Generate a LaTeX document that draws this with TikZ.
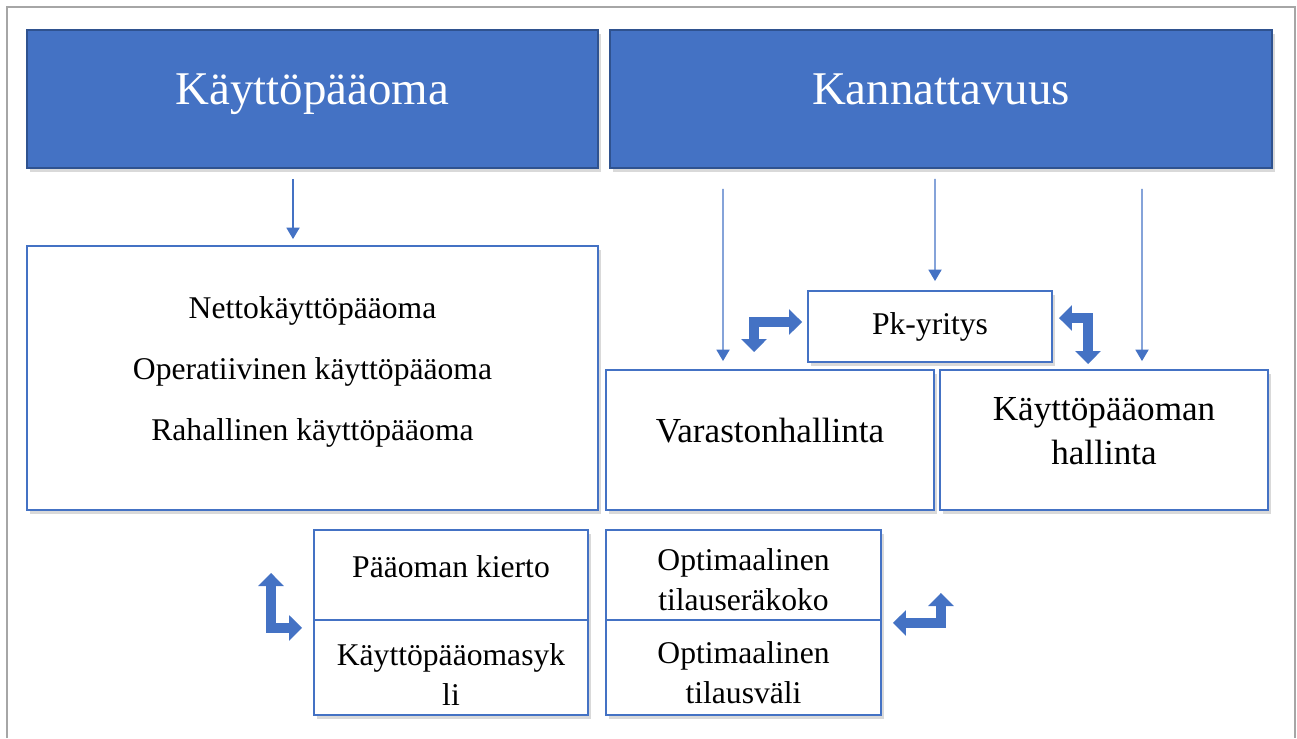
\documentclass[tikz,border=0pt]{standalone}
\usepackage{fontspec}
\setmainfont{Liberation Serif}
\usetikzlibrary{arrows.meta,shadows}
\definecolor{officeblue}{HTML}{4472C4}
\definecolor{darkblue}{HTML}{2F528F}
\definecolor{framegray}{HTML}{A6A6A6}
% struts to move text off the box centre
\newcommand{\lowstrut}[1]{\rule[-#1]{0pt}{#1}}
\newcommand{\highstrut}[1]{\rule{0pt}{#1}}

\begin{document}
\begin{tikzpicture}[
    x=0.02cm, y=-0.02cm,
    shadowed/.style={drop shadow={opacity=0.3, shadow xshift=0.06cm, shadow yshift=-0.08cm}},
    header/.style={rectangle, draw=darkblue, line width=1pt, fill=officeblue, text=white, shadowed, minimum height=2.76cm, text height=20pt, text depth=13.2pt, font=\fontsize{26.7}{32}\selectfont},
    box/.style={rectangle, draw=officeblue, line width=1.1pt, fill=white, shadowed, align=center, inner sep=0pt},
    small/.style={font=\fontsize{18}{22.7}\selectfont},
    arrow/.style={-{Triangle[length=6.5pt,width=7.5pt]}, officeblue, line width=0.7pt},
    bentarrow/.style={{Triangle[length=0.26cm,width=0.5cm]}-{Triangle[length=0.26cm,width=0.5cm]}, officeblue, line width=0.2cm}
]
\useasboundingbox (0,0) rectangle (1297,738);
\draw[framegray, line width=1.2pt] (7,738) -- (7,7) -- (1295,7) -- (1295,738);

\node[header, minimum width=11.42cm] (kpo) at (312.5,99) {Käyttöpääoma};
\node[header, minimum width=13.24cm] (kann) at (941,99) {Kannattavuus};

\node[box, minimum width=11.42cm, minimum height=5.28cm, font=\fontsize{18}{34.6}\selectfont] (kpolist) at (312.5,378) {Nettokäyttöpääoma\\Operatiivinen käyttöpääoma\\Rahallinen käyttöpääoma\lowstrut{10.7pt}};

\node[box, minimum width=4.88cm, minimum height=1.42cm, font=\fontsize{18}{22}\selectfont] (pk) at (930,326.5) {Pk-yritys};
\node[box, minimum width=6.56cm, minimum height=2.8cm, font=\fontsize{20}{25}\selectfont] (varasto) at (770,440) {Varastonhallinta\lowstrut{11.4pt}};
\node[box, minimum width=6.56cm, minimum height=2.8cm, font=\fontsize{20}{25}\selectfont] (kphall) at (1104,440) {Käyttöpääoman\\hallinta\lowstrut{10.2pt}};

\node[box, small, minimum width=5.48cm, minimum height=1.8cm] (kierto) at (451,575) {Pääoman kierto\lowstrut{10.2pt}};
\node[box, small, minimum width=5.48cm, minimum height=1.9cm] (sykli) at (451,667.5) {\highstrut{20.3pt}Käyttöpääomasyk\\li};
\node[box, small, minimum width=5.5cm, minimum height=1.8cm] (tilera) at (743.5,575) {\highstrut{18pt}Optimaalinen\\tilauseräkoko};
\node[box, small, minimum width=5.5cm, minimum height=1.9cm] (tilvali) at (743.5,667.5) {\highstrut{18pt}Optimaalinen\\tilausväli};

% thin arrows
\draw[arrow] ([xshift=-0.39cm, yshift=-0.2cm]kpo.south) -- ([xshift=-0.39cm, yshift=0.12cm]kpolist.north);
\draw[arrow] ([xshift=-4.36cm, yshift=-0.4cm]kann.south) -- ([xshift=-0.94cm, yshift=0.16cm]varasto.north);
\draw[arrow] ([xshift=-0.12cm, yshift=-0.2cm]kann.south) -- ([xshift=0.1cm, yshift=0.18cm]pk.north);
\draw[arrow] ([xshift=4.02cm, yshift=-0.4cm]kann.south) -- ([xshift=0.76cm, yshift=0.16cm]kphall.north);

% bent block arrows
\draw[bentarrow] ([xshift=-1.06cm, yshift=-0.51cm]pk.west) |- ([xshift=-0.1cm, yshift=0.09cm]pk.west);
\draw[bentarrow] ([xshift=0.12cm, yshift=0.17cm]pk.east) -| ([xshift=-0.32cm, yshift=0.1cm]kphall.north);
\draw[bentarrow] ([xshift=-0.84cm, yshift=0.04cm]kierto.west) |- ([xshift=-0.22cm, yshift=-0.14cm]kierto.south west);
\draw[bentarrow] ([xshift=0.22cm, yshift=-0.04cm]tilera.south east) -| ([xshift=1.18cm, yshift=-0.36cm]tilera.east);

\end{tikzpicture}
\end{document}
